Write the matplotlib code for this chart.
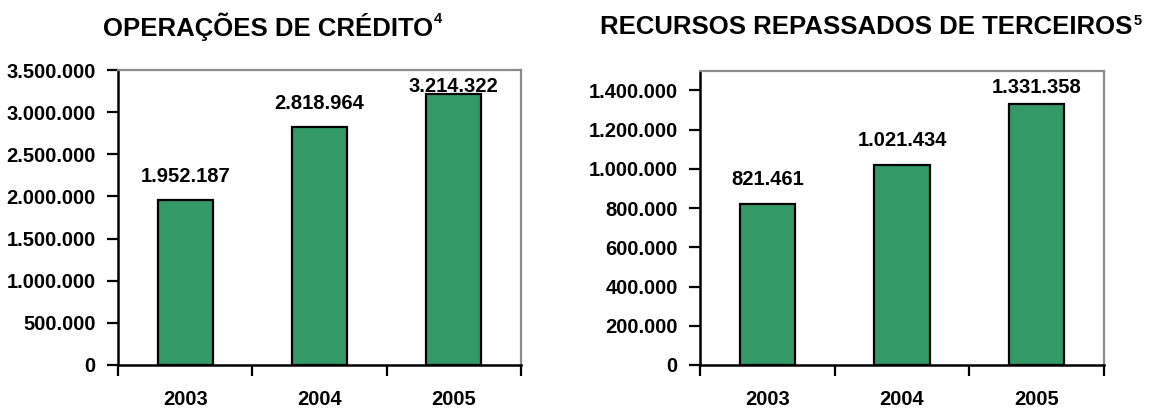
import matplotlib
matplotlib.use("Agg")
import matplotlib.pyplot as plt
from matplotlib.ticker import FuncFormatter

years = ["2003", "2004", "2005"]
credito = [1952187, 2818964, 3214322]
repasses = [821461, 1021434, 1331358]
titles = ["OPERAÇÕES DE CRÉDITO", "RECURSOS REPASSADOS DE TERCEIROS"]
supers = ["4", "5"]
credito_ticks = [0, 500000, 1000000, 1500000, 2000000, 2500000, 3000000, 3500000]
repasses_ticks = [0, 200000, 400000, 600000, 800000, 1000000, 1200000, 1400000]

plt.rcParams['font.family'] = ['Liberation Sans', 'DejaVu Sans']
plt.rcParams['font.weight'] = 'bold'

W, H = 1165, 408
fig = plt.figure(figsize=(W / 100, H / 100), dpi=100)

BAR = "#339966"
FS = 14.5
fmt = FuncFormatter(lambda v, p: f"{int(round(v)):,}".replace(",", "."))


def px_axes(x0, y0, x1, y1):
    return fig.add_axes([x0 / W, 1 - y1 / H, (x1 - x0) / W, (y1 - y0) / H])


def draw(ax, values, ticks, ymax):
    x = list(range(len(years)))
    ax.bar(x, values, width=0.41, color=BAR, edgecolor="black", linewidth=1.6, zorder=3)
    ax.set_yticks(ticks)
    ax.set_xlim(-0.5, len(years) - 0.5)
    ax.set_ylim(0, ymax)
    ax.yaxis.set_major_formatter(fmt)
    ax.set_xticks([i - 0.5 for i in range(len(years) + 1)])
    ax.set_xticklabels([])
    ax.set_xticks(x, minor=True)
    ax.set_xticklabels(years, minor=True)
    ax.tick_params(axis="x", which="major", direction="out", length=8, width=1.6, color="black")
    ax.tick_params(axis="x", which="minor", length=0, pad=18, labelsize=FS)
    ax.tick_params(axis="y", direction="out", length=8, width=1.6, pad=8, labelsize=FS)
    for lab in ax.get_yticklabels() + ax.get_xticklabels(minor=True):
        lab.set_fontweight("bold")
    ax.spines["left"].set_color("black")
    ax.spines["left"].set_linewidth(1.8)
    ax.spines["bottom"].set_color("black")
    ax.spines["bottom"].set_linewidth(1.8)
    ax.spines["top"].set_color("#8c8c8c")
    ax.spines["right"].set_color("#8c8c8c")
    ax.spines["top"].set_linewidth(1.6)
    ax.spines["right"].set_linewidth(1.6)
    # value labels: ~24px above bar top, capped 17px below plot top
    hpx = ax.get_position().height * H
    upp = ymax / hpx
    for xi, v in zip(x, values):
        yl = min(v + 24 * upp, ymax - 17 * upp)
        ax.text(xi, yl, fmt(v), ha="center", va="center", fontsize=FS,
                fontweight="bold", zorder=4)


ax1 = px_axes(118, 70, 521, 365)
draw(ax1, credito, credito_ticks, 3500000)
ax2 = px_axes(700, 70.7, 1104, 365)
draw(ax2, repasses, repasses_ticks, 1500000)

fig.canvas.draw()
r = fig.canvas.get_renderer()
for (cx, cy), t, s in zip([(268, 27), (866, 27)], titles, supers):
    tt = fig.text(cx / W, 1 - cy / H, t, ha="center", va="center", fontsize=18.5, fontweight="bold")
    bb = tt.get_window_extent(r)
    fig.text((bb.x1 + 1) / W, (bb.y1 + 1) / H, s, ha="left", va="top", fontsize=10.5, fontweight="bold")

fig.savefig("out.png", dpi=100)
